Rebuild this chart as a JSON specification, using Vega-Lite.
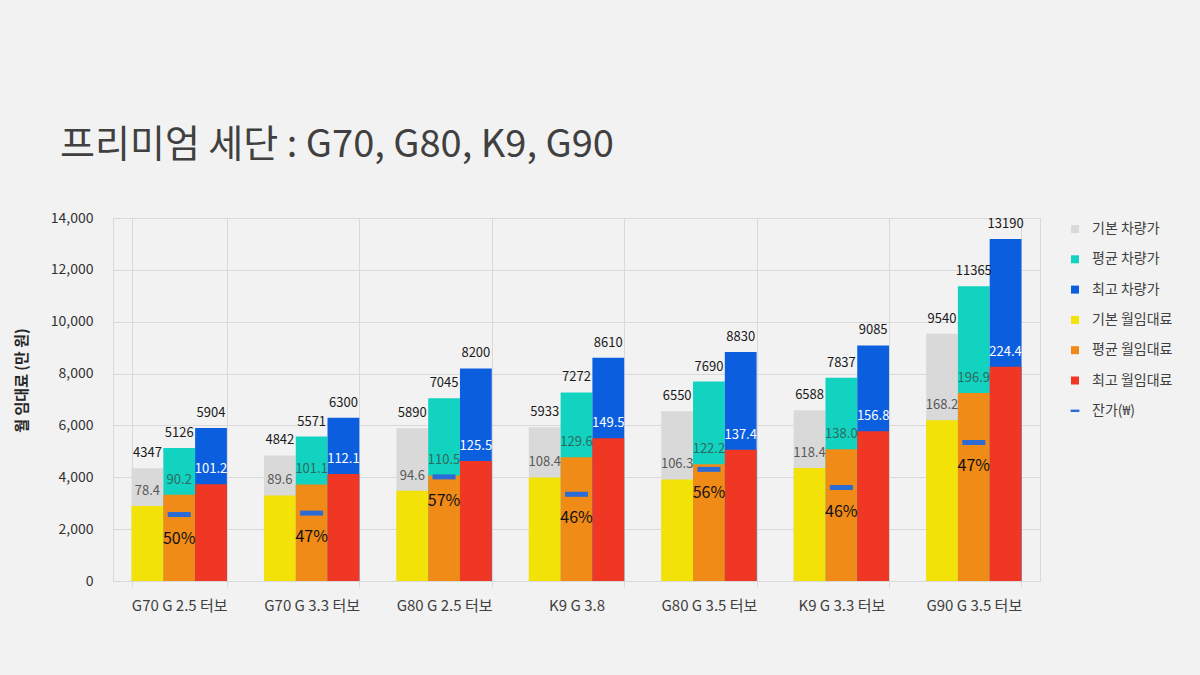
{
  "$schema": "https://vega.github.io/schema/vega-lite/v6.json",
  "width": 927,
  "height": 363,
  "autosize": "none",
  "padding": {"left": 113, "top": 218, "right": 160, "bottom": 94},
  "background": "#f2f2f2",
  "title": {
    "text": "프리미엄 세단 : G70, G80, K9, G90",
    "anchor": "start",
    "frame": "group",
    "dx": -53,
    "offset": 16,
    "baseline": "alphabetic",
    "fontSize": 38,
    "fontWeight": "normal",
    "color": "#404040"
  },
  "datasets": {
    "cars": [
      {"model": "G70 G 2.5 터보", "level": "기본", "priceSeries": "기본 차량가", "rentSeries": "기본 월임대료", "price": 4347, "rent": 78.4},
      {"model": "G70 G 2.5 터보", "level": "평균", "priceSeries": "평균 차량가", "rentSeries": "평균 월임대료", "price": 5126, "rent": 90.2},
      {"model": "G70 G 2.5 터보", "level": "최고", "priceSeries": "최고 차량가", "rentSeries": "최고 월임대료", "price": 5904, "rent": 101.2},
      {"model": "G70 G 3.3 터보", "level": "기본", "priceSeries": "기본 차량가", "rentSeries": "기본 월임대료", "price": 4842, "rent": 89.6},
      {"model": "G70 G 3.3 터보", "level": "평균", "priceSeries": "평균 차량가", "rentSeries": "평균 월임대료", "price": 5571, "rent": 101.1},
      {"model": "G70 G 3.3 터보", "level": "최고", "priceSeries": "최고 차량가", "rentSeries": "최고 월임대료", "price": 6300, "rent": 112.1},
      {"model": "G80 G 2.5 터보", "level": "기본", "priceSeries": "기본 차량가", "rentSeries": "기본 월임대료", "price": 5890, "rent": 94.6},
      {"model": "G80 G 2.5 터보", "level": "평균", "priceSeries": "평균 차량가", "rentSeries": "평균 월임대료", "price": 7045, "rent": 110.5},
      {"model": "G80 G 2.5 터보", "level": "최고", "priceSeries": "최고 차량가", "rentSeries": "최고 월임대료", "price": 8200, "rent": 125.5},
      {"model": "K9 G 3.8", "level": "기본", "priceSeries": "기본 차량가", "rentSeries": "기본 월임대료", "price": 5933, "rent": 108.4},
      {"model": "K9 G 3.8", "level": "평균", "priceSeries": "평균 차량가", "rentSeries": "평균 월임대료", "price": 7272, "rent": 129.6},
      {"model": "K9 G 3.8", "level": "최고", "priceSeries": "최고 차량가", "rentSeries": "최고 월임대료", "price": 8610, "rent": 149.5},
      {"model": "G80 G 3.5 터보", "level": "기본", "priceSeries": "기본 차량가", "rentSeries": "기본 월임대료", "price": 6550, "rent": 106.3},
      {"model": "G80 G 3.5 터보", "level": "평균", "priceSeries": "평균 차량가", "rentSeries": "평균 월임대료", "price": 7690, "rent": 122.2},
      {"model": "G80 G 3.5 터보", "level": "최고", "priceSeries": "최고 차량가", "rentSeries": "최고 월임대료", "price": 8830, "rent": 137.4},
      {"model": "K9 G 3.3 터보", "level": "기본", "priceSeries": "기본 차량가", "rentSeries": "기본 월임대료", "price": 6588, "rent": 118.4},
      {"model": "K9 G 3.3 터보", "level": "평균", "priceSeries": "평균 차량가", "rentSeries": "평균 월임대료", "price": 7837, "rent": 138.0},
      {"model": "K9 G 3.3 터보", "level": "최고", "priceSeries": "최고 차량가", "rentSeries": "최고 월임대료", "price": 9085, "rent": 156.8},
      {"model": "G90 G 3.5 터보", "level": "기본", "priceSeries": "기본 차량가", "rentSeries": "기본 월임대료", "price": 9540, "rent": 168.2},
      {"model": "G90 G 3.5 터보", "level": "평균", "priceSeries": "평균 차량가", "rentSeries": "평균 월임대료", "price": 11365, "rent": 196.9},
      {"model": "G90 G 3.5 터보", "level": "최고", "priceSeries": "최고 차량가", "rentSeries": "최고 월임대료", "price": 13190, "rent": 224.4}
    ],
    "residual": [
      {"model": "G70 G 2.5 터보", "level": "평균", "residual": 2563, "pct": "50%"},
      {"model": "G70 G 3.3 터보", "level": "평균", "residual": 2618, "pct": "47%"},
      {"model": "G80 G 2.5 터보", "level": "평균", "residual": 4016, "pct": "57%"},
      {"model": "K9 G 3.8", "level": "평균", "residual": 3345, "pct": "46%"},
      {"model": "G80 G 3.5 터보", "level": "평균", "residual": 4306, "pct": "56%"},
      {"model": "K9 G 3.3 터보", "level": "평균", "residual": 3605, "pct": "46%"},
      {"model": "G90 G 3.5 터보", "level": "평균", "residual": 5342, "pct": "47%"}
    ]
  },
  "layer": [
    {
      "layer": [
        {
          "data": {"name": "cars"},
          "mark": {"type": "bar"},
          "encoding": {
            "x": {
              "field": "model",
              "type": "nominal",
              "sort": null,
              "title": null,
              "scale": {"paddingInner": 0.28, "paddingOuter": 0.14},
              "axis": {
                "labelAngle": 0,
                "labelFontSize": 15,
                "labelColor": "#404040",
                "labelPadding": 11,
                "tickBand": "extent",
                "tickSize": 6,
                "tickColor": "#d9d9d9",
                "domainColor": "#d9d9d9",
                "grid": true,
                "gridColor": "#d9d9d9"
              }
            },
            "xOffset": {"field": "level", "type": "nominal", "scale": {"domain": ["기본", "평균", "최고"], "padding": 0}},
            "y": {
              "field": "price",
              "type": "quantitative",
              "scale": {"domain": [0, 14000], "nice": false},
              "title": "월 임대료 (만 원)",
              "axis": {
                "values": [0, 2000, 4000, 6000, 8000, 10000, 12000, 14000],
                "format": ",d",
                "labelFontSize": 14,
                "labelColor": "#333333",
                "labelPadding": 20,
                "ticks": false,
                "domain": false,
                "gridColor": "#d9d9d9",
                "titleFontSize": 15,
                "titleFontWeight": "bold",
                "titleColor": "#262626",
                "titleX": -84,
                "titleY": 162
              }
            },
            "color": {
              "field": "priceSeries",
              "type": "nominal",
              "scale": {
                "domain": ["기본 차량가", "평균 차량가", "최고 차량가", "기본 월임대료", "평균 월임대료", "최고 월임대료", "잔가(₩)"],
                "range": ["#d9d9d9", "#12d3bf", "#0b5fdf", "#f2e208", "#f08b17", "#ef3724", "#2a6bd6"]
              },
              "legend": {
                "title": null,
                "orient": "none",
                "legendX": 955,
                "legendY": 4,
                "symbolType": "square",
                "symbolSize": 64,
                "symbolStrokeWidth": 0,
                "symbolOpacity": 1,
                "labelFontSize": 14,
                "labelColor": "#404040",
                "labelOffset": 10,
                "rowPadding": 16.3,
                "encode": {
                  "symbols": {
                    "update": {
                      "shape": [
                        {"test": "datum.value === '잔가(₩)'", "value": "M-1.1,-0.3H1.1V0.3H-1.1Z"},
                        {"value": "square"}
                      ]
                    }
                  }
                }
              }
            }
          }
        },
        {
          "data": {"name": "cars"},
          "mark": {"type": "text", "baseline": "bottom", "dy": -8, "fontSize": 13, "color": "#1a1a1a"},
          "encoding": {
            "x": {"field": "model", "type": "nominal", "sort": null},
            "xOffset": {"field": "level", "type": "nominal"},
            "y": {"field": "price", "type": "quantitative"},
            "text": {"field": "price", "type": "quantitative", "format": "d"}
          }
        }
      ]
    },
    {
      "layer": [
        {
          "data": {"name": "cars"},
          "mark": {"type": "bar"},
          "encoding": {
            "x": {"field": "model", "type": "nominal", "sort": null},
            "xOffset": {"field": "level", "type": "nominal"},
            "y": {"field": "rent", "type": "quantitative", "scale": {"domain": [0, 380], "nice": false}, "axis": null},
            "color": {"field": "rentSeries", "type": "nominal"}
          }
        },
        {
          "data": {"name": "cars"},
          "mark": {"type": "text", "baseline": "bottom", "dy": -8, "fontSize": 13},
          "encoding": {
            "x": {"field": "model", "type": "nominal", "sort": null},
            "xOffset": {"field": "level", "type": "nominal"},
            "y": {"field": "rent", "type": "quantitative"},
            "text": {"field": "rent", "type": "quantitative", "format": ".1f"},
            "color": {
              "condition": [
                {"test": "datum.level === '최고'", "value": "#ffffff"},
                {"test": "datum.level === '평균'", "value": "#2f6a60"}
              ],
              "value": "#595959"
            }
          }
        }
      ]
    },
    {
      "layer": [
        {
          "data": {"name": "residual"},
          "mark": {"type": "tick", "thickness": 5, "size": 23, "opacity": 1},
          "encoding": {
            "x": {"field": "model", "type": "nominal", "sort": null},
            "xOffset": {"field": "level", "type": "nominal"},
            "y": {"field": "residual", "type": "quantitative", "scale": {"domain": [0, 14000], "nice": false}, "axis": null},
            "color": {"datum": "잔가(₩)"}
          }
        },
        {
          "data": {"name": "residual"},
          "mark": {"type": "text", "baseline": "middle", "dy": 24, "fontSize": 16, "color": "#111111"},
          "encoding": {
            "x": {"field": "model", "type": "nominal", "sort": null},
            "xOffset": {"field": "level", "type": "nominal"},
            "y": {"field": "residual", "type": "quantitative"},
            "text": {"field": "pct", "type": "nominal"}
          }
        }
      ]
    }
  ],
  "resolve": {"scale": {"y": "independent"}},
  "config": {
    "font": "Noto Sans CJK KR",
    "view": {"stroke": "#d9d9d9"}
  }
}
